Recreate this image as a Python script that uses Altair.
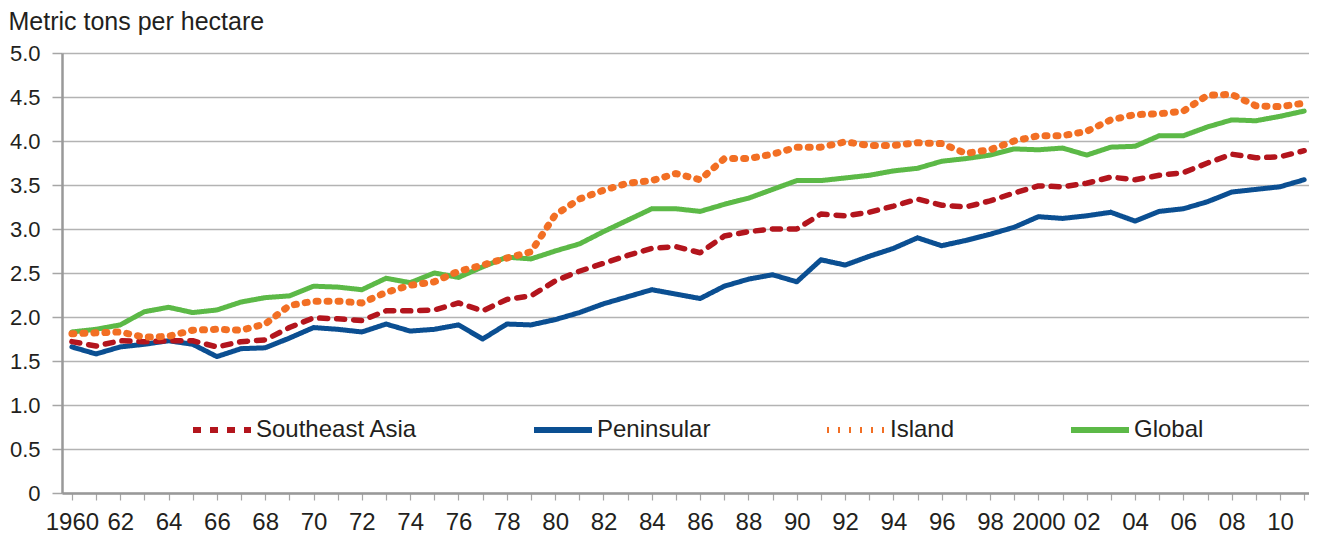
import altair as alt
import pandas as pd

years = list(range(1960, 2012))

southeast_asia = [1.72, 1.67, 1.73, 1.72, 1.73, 1.73, 1.66, 1.72, 1.74, 1.88,
                  1.99, 1.98, 1.96, 2.07, 2.07, 2.08, 2.16, 2.07, 2.20, 2.24,
                  2.41, 2.52, 2.61, 2.70, 2.78, 2.80, 2.73, 2.92, 2.97, 3.00,
                  3.00, 3.17, 3.15, 3.19, 3.26, 3.34, 3.27, 3.25, 3.32, 3.41,
                  3.49, 3.48, 3.52, 3.59, 3.56, 3.61, 3.64, 3.75, 3.85, 3.81,
                  3.82, 3.89]

peninsular = [1.66, 1.58, 1.66, 1.69, 1.73, 1.69, 1.55, 1.64, 1.65, 1.76,
              1.88, 1.86, 1.83, 1.92, 1.84, 1.86, 1.91, 1.75, 1.92, 1.91,
              1.97, 2.05, 2.15, 2.23, 2.31, 2.26, 2.21, 2.35, 2.43, 2.48,
              2.40, 2.65, 2.59, 2.69, 2.78, 2.90, 2.81, 2.87, 2.94, 3.02,
              3.14, 3.12, 3.15, 3.19, 3.09, 3.20, 3.23, 3.31, 3.42, 3.45,
              3.48, 3.56]

island = [1.81, 1.82, 1.83, 1.77, 1.78, 1.85, 1.86, 1.85, 1.92, 2.13,
          2.18, 2.18, 2.16, 2.28, 2.36, 2.40, 2.52, 2.59, 2.67, 2.74,
          3.16, 3.34, 3.44, 3.52, 3.55, 3.63, 3.56, 3.80, 3.80, 3.85,
          3.93, 3.93, 3.99, 3.95, 3.95, 3.98, 3.97, 3.86, 3.90, 4.00,
          4.06, 4.06, 4.11, 4.24, 4.30, 4.31, 4.34, 4.52, 4.53, 4.40,
          4.39, 4.43]

global_yield = [1.83, 1.86, 1.91, 2.06, 2.11, 2.05, 2.08, 2.17, 2.22, 2.24,
                2.35, 2.34, 2.31, 2.44, 2.39, 2.50, 2.45, 2.57, 2.68, 2.66,
                2.75, 2.83, 2.97, 3.10, 3.23, 3.23, 3.20, 3.28, 3.35, 3.45,
                3.55, 3.55, 3.58, 3.61, 3.66, 3.69, 3.77, 3.80, 3.84, 3.91,
                3.90, 3.92, 3.84, 3.93, 3.94, 4.06, 4.06, 4.16, 4.24, 4.23,
                4.28, 4.34]

series_names = ["Southeast Asia", "Peninsular", "Island", "Global"]
series_values = [southeast_asia, peninsular, island, global_yield]
y_ticks = [0, 0.5, 1.0, 1.5, 2.0, 2.5, 3.0, 3.5, 4.0, 4.5, 5.0]

colors = ["#B3151D", "#0B4F92", "#F26F24", "#5CB947"]
dashes = [[8, 9], [1, 0], [2, 9], [1, 0]]
widths = [5.5, 5, 7, 5]

rows = []
for name, vals in zip(series_names, series_values):
    for yr, v in zip(years, vals):
        rows.append({"year": yr, "value": v, "series": name})
df = pd.DataFrame(rows)

FONT = "Liberation Sans"
TXT = "#231F20"

legend = alt.Legend(
    orient="none", legendX=128, legendY=345, direction="horizontal",
    title=None, symbolType="stroke", symbolSize=3364, symbolStrokeWidth=6,
    labelFontSize=24, labelFont=FONT, labelColor=TXT, columnPadding=104,
    labelOffset=2, padding=0, labelLimit=400,
)

x_enc = alt.X("year:Q",
              scale=alt.Scale(domain=[1959.59, 2011.2], nice=False, zero=False),
              axis=alt.Axis(
                  values=years, title=None, grid=False,
                  labelExpr="datum.value % 2 != 0 ? '' : ((datum.value == 1960 || datum.value == 2000) ? toString(datum.value) : slice(toString(datum.value), 2))",
                  labelOverlap=False, labelFontSize=24, labelFont=FONT, labelColor=TXT,
                  labelPadding=10, tickSize=7, tickColor="#A6A6A6", tickWidth=1.2,
                  domainColor="#999999", domainWidth=2.5,
              ))
y_enc = alt.Y("value:Q",
              scale=alt.Scale(domain=[0, 5], nice=False),
              axis=alt.Axis(
                  values=y_ticks,
                  labelExpr="datum.value == 0 ? '0' : format(datum.value, '.1f')",
                  title="Metric tons per hectare", titleAngle=0, titleAlign="left",
                  titleBaseline="top", titleX=-54, titleY=-44,
                  titleFontSize=25, titleFont=FONT, titleColor=TXT, titleFontWeight="normal",
                  labelFontSize=22, labelFont=FONT, labelColor=TXT, labelPadding=12,
                  tickSize=10, tickColor="#A6A6A6", tickWidth=1.5,
                  gridColor="#B3B3B3", gridWidth=1.5,
                  domainColor="#999999", domainWidth=2.5,
              ))
color_enc = alt.Color("series:N", scale=alt.Scale(domain=series_names, range=colors),
                      sort=series_names, legend=legend)
dash_enc = alt.StrokeDash("series:N", scale=alt.Scale(domain=series_names, range=dashes),
                          sort=series_names, legend=legend)

layers = []
for name, w in zip(series_names, widths):
    layers.append(
        alt.Chart(df).transform_filter(alt.datum.series == name)
        .mark_line(strokeWidth=w, strokeCap="round", strokeJoin="round")
        .encode(x=x_enc, y=y_enc, color=color_enc, strokeDash=dash_enc)
    )

# draw order: Peninsular, Southeast Asia, Global, Island on top
order = [1, 0, 3, 2]
chart = alt.layer(*[layers[i] for i in order]).properties(
    width=1247, height=440,
    autosize=alt.AutoSizeParams(type="none"),
    padding={"left": 54, "top": 45, "right": 0, "bottom": 45},
).configure_view(stroke=None).configure(background="white")

chart.save("out.html", embed_options={"renderer": "svg", "actions": False})
